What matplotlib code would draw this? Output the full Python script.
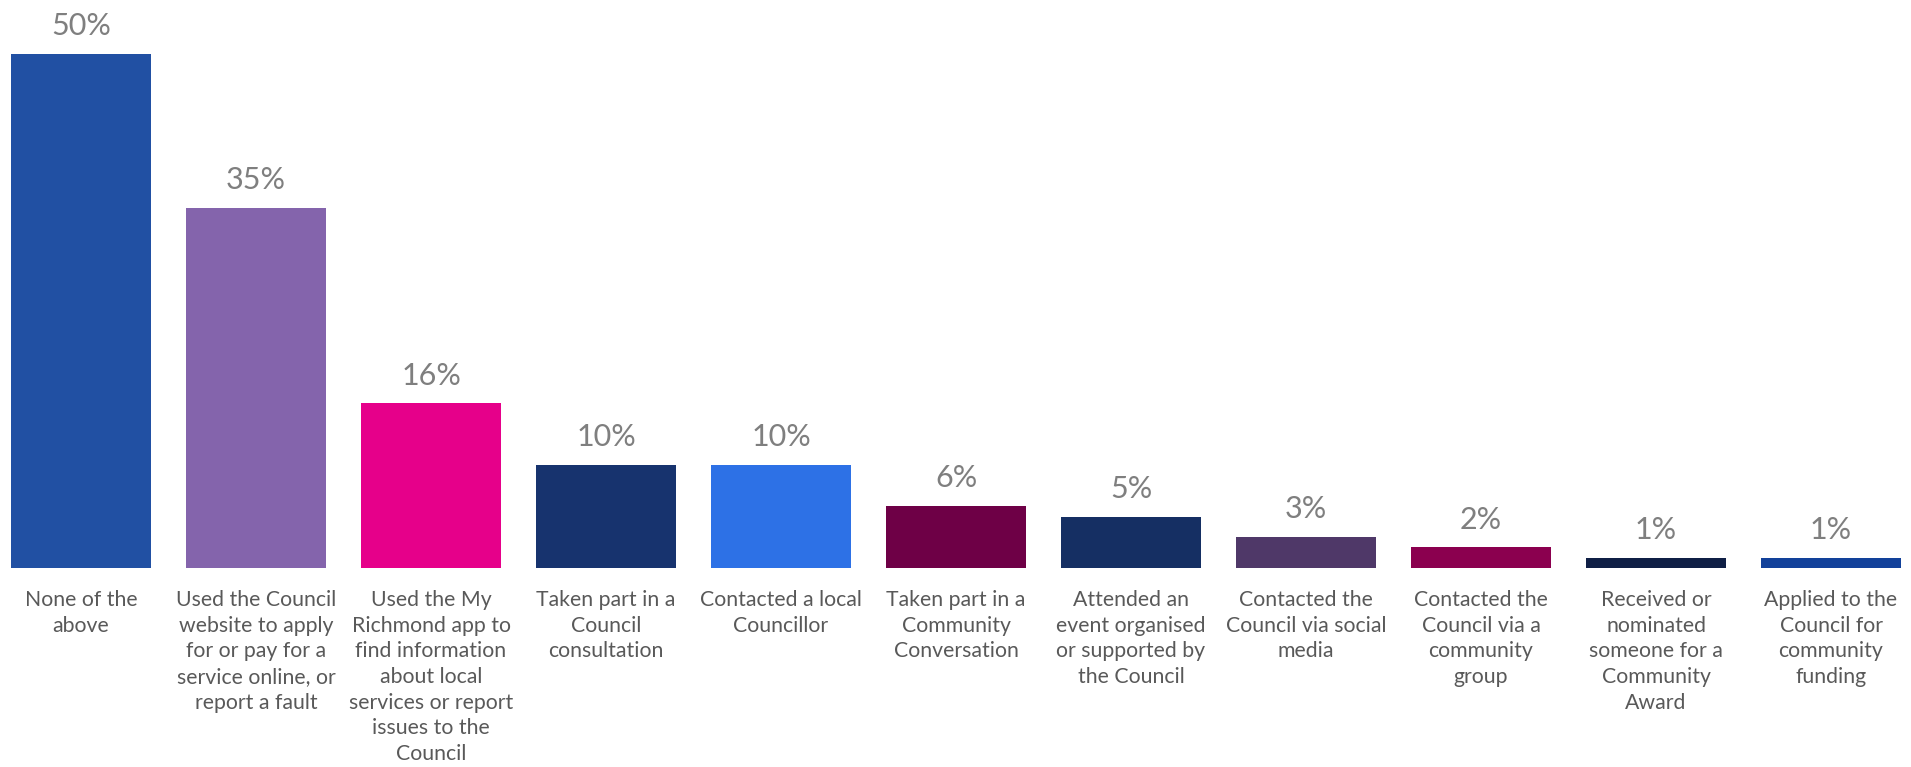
import matplotlib
matplotlib.use("Agg")
import matplotlib.pyplot as plt

categories = [
    "None of the\nabove",
    "Used the Council\nwebsite to apply\nfor or pay for a\nservice online, or\nreport a fault",
    "Used the My\nRichmond app to\nfind information\nabout local\nservices or report\nissues to the\nCouncil",
    "Taken part in a\nCouncil\nconsultation",
    "Contacted a local\nCouncillor",
    "Taken part in a\nCommunity\nConversation",
    "Attended an\nevent organised\nor supported by\nthe Council",
    "Contacted the\nCouncil via social\nmedia",
    "Contacted the\nCouncil via a\ncommunity\ngroup",
    "Received or\nnominated\nsomeone for a\nCommunity\nAward",
    "Applied to the\nCouncil for\ncommunity\nfunding",
]
values = [50, 35, 16, 10, 10, 6, 5, 3, 2, 1, 1]
colors = ["#2150A3", "#8464AC", "#E6008A", "#17336E", "#2D71E6", "#6E0046",
          "#152F63", "#4F3868", "#8B004F", "#0F1F45", "#12419A"]

plt.rcParams["font.family"] = ["Lato", "DejaVu Sans"]

fig = plt.figure(figsize=(19.11, 7.67), dpi=100)
ax = fig.add_axes([0, 0.2595, 1, 0.6701])

x = list(range(len(values)))
ax.bar(x, values, width=0.8, color=colors)

for xi, v in zip(x, values):
    ax.annotate(f"{v}%", (xi, v), xytext=(0, 10), textcoords="offset points",
                ha="center", va="bottom", fontsize=22, color="#7F7F7F",
                annotation_clip=False)

ax.set_xlim(-0.463, 10.457)
ax.set_ylim(0, 50)
ax.set_xticks(x)
ax.set_xticklabels(categories, fontsize=15.3, color="#595959", linespacing=1.35)
ax.tick_params(axis="x", length=0, pad=16)
ax.set_yticks([])
for s in ax.spines.values():
    s.set_visible(False)

fig.savefig("out.png", dpi=100)
